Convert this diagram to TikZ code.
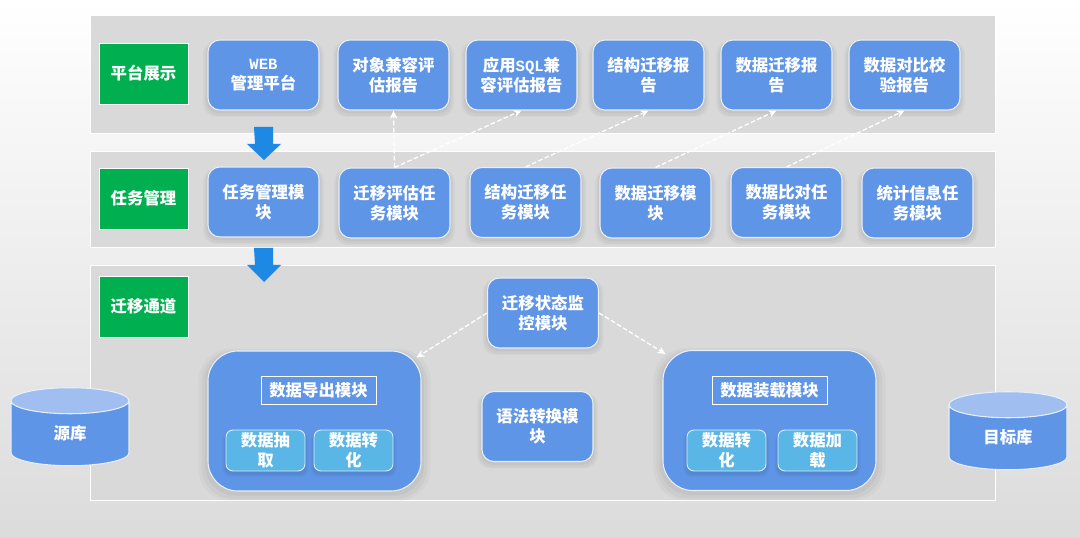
\documentclass[tikz,border=0pt]{standalone}
\usepackage{fontspec}
\setmainfont{Noto Sans CJK SC}
\newfontfamily\latinmono{Liberation Mono}[Scale=0.95]
\usetikzlibrary{arrows.meta, shapes.geometric, shadows}
\begin{document}
\begin{tikzpicture}[
    x=0.03cm, y=-0.03cm,
    font=\fontsize{14}{17}\selectfont\bfseries,
    panel/.style={fill=black!15, draw=white, line width=0.6pt, inner sep=0pt, minimum width=27.15cm},
    tag/.style={fill=tagcolor, draw=white, line width=0.8pt, text=white, inner sep=0pt, minimum width=2.67cm, minimum height=1.83cm},
    softshadow/.style={
        general shadow={fill=black, opacity=0.025, shadow scale=1.09, shadow yshift=-3pt},
        general shadow={fill=black, opacity=0.03, shadow scale=1.06, shadow yshift=-3pt},
        general shadow={fill=black, opacity=0.035, shadow scale=1.03, shadow yshift=-2pt}},
    modbox/.style={softshadow, fill=boxcolor, draw=white!85!boxcolor, line width=0.9pt, text=white, align=center, inner sep=0pt,
        rounded corners=0.36cm, minimum width=3.33cm, minimum height=2.10cm},
    bigbox/.style={softshadow, fill=boxcolor, draw=white!85!boxcolor, line width=0.9pt, inner sep=0pt,
        rounded corners=0.90cm, minimum width=6.39cm, minimum height=4.20cm},
    titlebox/.style={draw=white, line width=0.8pt, text=white, inner sep=0pt, minimum width=3.45cm, minimum height=0.84cm},
    subbox/.style={softshadow, fill=subcolor, draw=white!75!subcolor, line width=0.8pt, text=white, align=center, inner sep=0pt,
        rounded corners=0.21cm, minimum width=2.37cm, minimum height=1.23cm},
    store/.style={cylinder, shape border rotate=90, aspect=0.65, cylinder uses custom fill,
        cylinder body fill=boxcolor, cylinder end fill=endcolor, draw=white!85!boxcolor, line width=0.9pt,
        text=white, inner sep=0pt, minimum width=3.54cm, minimum height=2.34cm},
    downarrow/.style={fill=arrowcolor},
    dashlink/.style={-{Stealth[length=2.4mm,width=2.2mm]}, draw=white, line width=1.1pt, dash pattern=on 4pt off 2pt}
]
\definecolor{tagcolor}{HTML}{00B050}
\definecolor{boxcolor}{HTML}{5F95E6}
\definecolor{subcolor}{HTML}{5AB6E6}
\definecolor{endcolor}{HTML}{A0BEF0}
\definecolor{arrowcolor}{HTML}{1E88E5}
%
\useasboundingbox (0,0) rectangle (1080,538);
\shade[top color=white, middle color=black!4, bottom color=black!14] (0,0) rectangle (1080,538);
% panels
\node[panel, minimum height=3.54cm] (showpanel) at (542.5,74) {};
\node[panel, minimum height=2.88cm] (taskpanel) at (542.5,199) {};
\node[panel, minimum height=7.05cm] (pathpanel) at (542.5,382.5) {};
\node[tag] (showtag) at (143.5,73.5) {平台展示};
\node[tag] (tasktag) at (143.5,198.5) {任务管理};
\node[tag] (pathtag) at (143.5,306.5) {迁移通道};
% top row
\node[modbox] (webbox) at (263.5,75) {{\latinmono WEB}\\管理平台};
\node[modbox] (objreport) at (393.5,75) {对象兼容评\\估报告};
\node[modbox] (sqlreport) at (521.5,75) {应用{\latinmono SQL}兼\\容评估报告};
\node[modbox] (structreport) at (648.5,75) {结构迁移报\\告};
\node[modbox] (datareport) at (776.5,75) {数据迁移报\\告};
\node[modbox] (cmpreport) at (904.5,75) {数据对比校\\验报告};
% middle row
\node[modbox] (taskmod) at (263.5,202) {任务管理模\\块};
\node[modbox] (evalmod) at (394.5,203) {迁移评估任\\务模块};
\node[modbox] (structmod) at (525.5,202.5) {结构迁移任\\务模块};
\node[modbox] (datamod) at (655.5,203) {数据迁移模\\块};
\node[modbox] (cmpmod) at (786.5,202.5) {数据比对任\\务模块};
\node[modbox] (statmod) at (917.5,203) {统计信息任\\务模块};
% block arrows
\fill[downarrow] (254,127) -- ++(19,0) -- ++(0,17) -- ++(8,0) -- ++(-17,16) -- ++(-17,-16) -- ++(8,0) -- cycle;
\fill[downarrow] (254,248) -- ++(19,0) -- ++(0,17) -- ++(8,0) -- ++(-17,17) -- ++(-17,-17) -- ++(8,0) -- cycle;
% bottom panel
\node[modbox] (monitor) at (543,313) {迁移状态监\\控模块};
\node[modbox] (syntax) at (537.5,426.5) {语法转换模\\块};
\node[bigbox] (exportbox) at (314.5,421) {};
\node[bigbox] (loadbox) at (769.5,420.5) {};
\node[titlebox] (exporttitle) at (318.5,390) {数据导出模块};
\node[titlebox] (loadtitle) at (769.5,390) {数据装载模块};
\node[subbox] (extract) at (265.5,450.5) {数据抽\\取};
\node[subbox] (convone) at (353.5,450.5) {数据转\\化};
\node[subbox] (convtwo) at (726.5,450.5) {数据转\\化};
\node[subbox] (loading) at (817.5,450.5) {数据加\\载};
\node[store] (source) at (70,433.5) {\raisebox{-0.15cm}{\makebox[1.2cm]{源库}}};
\node[store] (target) at (1008,437.5) {\raisebox{-0.15cm}{\makebox[1.2cm]{目标库}}};
% dashed links
\draw[dashlink] (evalmod.north) -- (objreport.south);
\draw[dashlink] (evalmod.north) -- (sqlreport.south);
\draw[dashlink] (structmod.north) -- (structreport.south);
\draw[dashlink] (datamod.north) -- (datareport.south);
\draw[dashlink] (cmpmod.north) -- (cmpreport.south);
\draw[dashlink] (monitor.west) -- ([shift={(-5,7)}]exportbox.north east);
\draw[dashlink] (monitor.east) -- ([shift={(3,4)}]loadbox.north west);
\end{tikzpicture}
\end{document}
